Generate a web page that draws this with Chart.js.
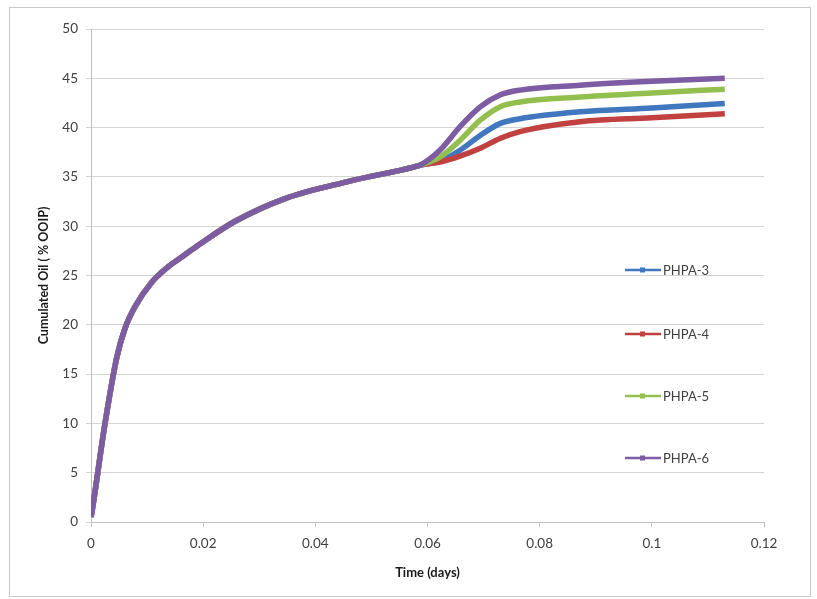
<!DOCTYPE html>
<html>
<head>
<meta charset="utf-8">
<script src="https://cdn.jsdelivr.net/npm/chart.js"></script>
<style>
  html, body { margin: 0; padding: 0; background: #fff; }
  #wrap { position: relative; width: 817px; height: 599px; }
  #frame { position: absolute; left: 9px; top: 7px; width: 800px; height: 588px; border: 1px solid #c8c8c8; pointer-events: none; }
</style>
</head>
<body>
<div id="wrap">
  <canvas id="c" width="817" height="599"></canvas>
  <div id="frame"></div>
</div>
<script>
// time axis (days) and the shared early part of every run
var times = [0, 0.0001, 0.0025, 0.0046, 0.0061, 0.0078, 0.0108, 0.0138, 0.0165, 0.0197, 0.0257, 0.0346, 0.0456, 0.0575, 0.0587,
             0.0622, 0.0658, 0.0694, 0.0729, 0.0765, 0.0872, 0.1, 0.113];
var common = [0.5, 0.8, 10, 16.7, 19.7, 21.8, 24.3, 25.9, 27.0, 28.3, 30.5, 32.8, 34.5, 36.0, 36.2];

// after polymer injection the curves split
var phpa3Tail = [36.6, 37.7, 39.2, 40.4, 40.9, 41.6, 42.0, 42.45];
var phpa4Tail = [36.5, 37.1, 37.9, 38.9, 39.6, 40.6, 41.0, 41.4];
var phpa5Tail = [37.0, 38.7, 40.75, 42.1, 42.6, 43.1, 43.5, 43.9];
var phpa6Tail = [37.7, 40.1, 42.1, 43.3, 43.8, 44.3, 44.7, 45.0];

var seriesNames = ['PHPA-3', 'PHPA-4', 'PHPA-5', 'PHPA-6'];
var seriesColors = ['#4077bf', '#c0413f', '#93bf4f', '#7d5ca3'];

var xTicks = [0, 0.02, 0.04, 0.06, 0.08, 0.1, 0.12];

function pts(tail){
  var vals = common.concat(tail);
  return times.map(function(t, i){ return { x: t, y: vals[i] }; });
}

var tails = [phpa3Tail, phpa4Tail, phpa5Tail, phpa6Tail];
var datasets = seriesNames.map(function(name, i){
  return {
    label: name,
    data: pts(tails[i]),
    borderColor: seriesColors[i],
    backgroundColor: seriesColors[i],
    borderWidth: 5.5,
    pointRadius: 0,
    cubicInterpolationMode: 'monotone',
    order: 4 - i
  };
});

var FONT = 'Lato, "Open Sans", sans-serif';

// legend drawn inside the plot, entries spread down the right side
var sideLegend = {
  id: 'sideLegend',
  afterDraw: function(chart){
    var ctx = chart.ctx;
    var ys = [270, 334, 396, 458];
    ctx.save();
    seriesNames.forEach(function(name, i){
      var y = ys[i];
      ctx.strokeStyle = seriesColors[i];
      ctx.lineWidth = 2.5;
      ctx.beginPath(); ctx.moveTo(625, y); ctx.lineTo(661, y); ctx.stroke();
      ctx.fillStyle = seriesColors[i];
      ctx.fillRect(640, y - 2.5, 5, 5);
      ctx.fillStyle = '#404040';
      ctx.font = '13px ' + FONT;
      ctx.textBaseline = 'middle';
      ctx.textAlign = 'left';
      ctx.fillText(name, 663, y + 1);
    });
    ctx.restore();
  }
};

new Chart(document.getElementById('c').getContext('2d'), {
  type: 'line',
  data: { datasets: datasets },
  options: {
    responsive: false,
    animation: false,
    layout: { padding: { left: 14, top: 29, right: 53, bottom: 9 } },
    plugins: { legend: { display: false }, tooltip: { enabled: false } },
    scales: {
      x: {
        type: 'linear', min: 0, max: 0.12,
        afterFit: function(s){ s.height = 68; },
        afterBuildTicks: function(s){ s.ticks = xTicks.map(function(v){ return { value: v }; }); },
        grid: { drawOnChartArea: false, drawTicks: true, tickLength: 5, color: '#bfbfbf' },
        border: { color: '#bfbfbf' },
        ticks: { color: '#404040', font: { family: FONT, size: 13.5 }, padding: 9,
                 callback: function(v){ return String(+v.toFixed(2)); } },
        title: { display: true, text: 'Time (days)', color: '#1a1a1a',
                 font: { family: FONT, size: 13, weight: 'bold' }, padding: { top: 0, bottom: 9 } }
      },
      y: {
        type: 'linear', min: 0, max: 50,
        afterFit: function(s){ s.width = 77; },
        grid: { color: '#d4d4d4', tickLength: 5 },
        border: { color: '#bfbfbf' },
        ticks: { stepSize: 5, color: '#404040', font: { family: FONT, size: 13.5 }, padding: 8 },
        title: { display: true, text: 'Cumulated Oil ( % OOIP)', color: '#1a1a1a',
                 font: { family: FONT, size: 12.5, weight: 'bold' }, padding: { top: 22, bottom: 0 } }
      }
    }
  },
  plugins: [sideLegend]
});
</script>
</body>
</html>
